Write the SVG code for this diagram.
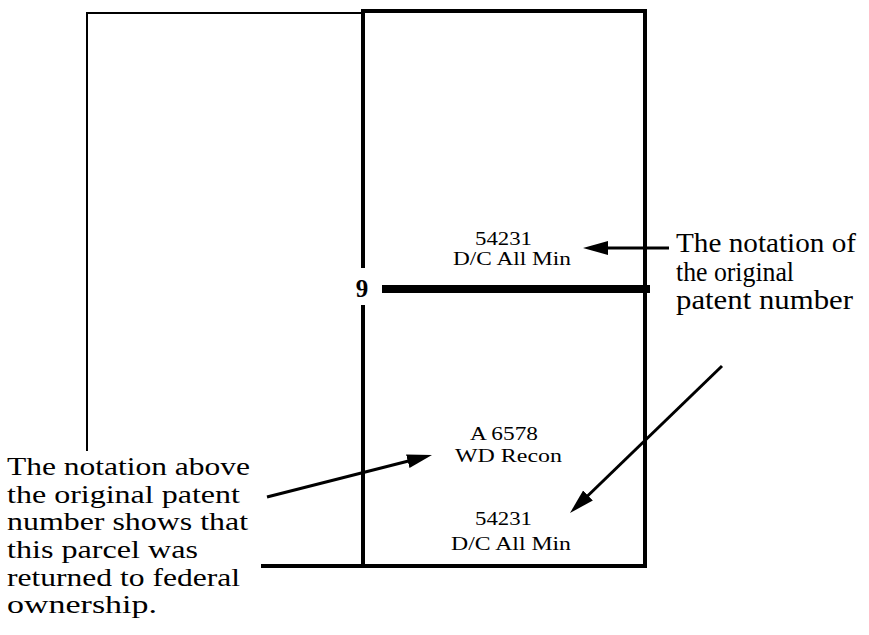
<svg xmlns="http://www.w3.org/2000/svg" width="869" height="635" viewBox="0 0 869 635">
<style>
.t{font-family:"Liberation Serif","Times New Roman",serif;fill:#000}
.big{font-size:27px}
.lf{font-size:26px}
.sm{font-size:18px}
.ln{stroke:#000;fill:none;stroke-linecap:square}
.arr{stroke:#000;stroke-width:3;fill:none}
</style>
<defs>
<marker id="ah" markerUnits="userSpaceOnUse" markerWidth="26" markerHeight="16" refX="15" refY="7" orient="auto">
<path d="M0,0 L25,7 L0,14 Z" fill="#000"/>
</marker>
</defs>
<rect width="869" height="635" fill="#fff"/>
<g id="left-parcel">
<path class="ln" stroke-width="2" d="M87,450 L87,13 L363,13"/>
</g>
<g id="right-parcel">
<path class="ln" stroke-width="4" d="M363,266 L363,11 L645,11 L645,566 L263,566"/>
<path class="ln" stroke-width="4" d="M363,307 L363,566"/>
<text class="t" x="362" y="297" font-size="25" font-weight="bold" text-anchor="middle">9</text>
<line x1="382" y1="289" x2="650" y2="289" stroke="#000" stroke-width="8"/>
</g>
<g id="notation-top">
<text class="t sm" x="475" y="245" textLength="57" lengthAdjust="spacingAndGlyphs">54231</text>
<text class="t sm" x="453" y="265" textLength="118" lengthAdjust="spacingAndGlyphs">D/C  All Min</text>
</g>
<g id="notation-recon">
<text class="t sm" x="470" y="440" textLength="68" lengthAdjust="spacingAndGlyphs">A 6578</text>
<text class="t sm" x="455" y="462" textLength="107" lengthAdjust="spacingAndGlyphs">WD  Recon</text>
</g>
<g id="notation-bottom">
<text class="t sm" x="475" y="525" textLength="57" lengthAdjust="spacingAndGlyphs">54231</text>
<text class="t sm" x="451" y="550" textLength="120" lengthAdjust="spacingAndGlyphs">D/C  All Min</text>
</g>
<g id="label-right">
<text class="t big" x="676" y="252" textLength="180" lengthAdjust="spacingAndGlyphs">The notation of</text>
<text class="t big" x="676" y="281" textLength="118" lengthAdjust="spacingAndGlyphs">the original</text>
<text class="t big" x="676" y="309" textLength="177" lengthAdjust="spacingAndGlyphs">patent number</text>
</g>
<g id="label-left">
<text class="t lf" x="7" y="475" textLength="243" lengthAdjust="spacingAndGlyphs">The notation above</text>
<text class="t lf" x="7" y="503" textLength="233" lengthAdjust="spacingAndGlyphs">the original patent</text>
<text class="t lf" x="7" y="530" textLength="241" lengthAdjust="spacingAndGlyphs">number shows that</text>
<text class="t lf" x="7" y="558" textLength="191" lengthAdjust="spacingAndGlyphs">this parcel was</text>
<text class="t lf" x="7" y="586" textLength="233" lengthAdjust="spacingAndGlyphs">returned to federal</text>
<text class="t lf" x="7" y="613" textLength="150" lengthAdjust="spacingAndGlyphs">ownership.</text>
</g>
<g id="connectors">
<line class="arr" stroke-width="2.5" x1="669" y1="248" x2="593" y2="248" marker-end="url(#ah)"/>
<line class="arr" x1="267" y1="497" x2="422.3" y2="457.5" marker-end="url(#ah)"/>
<line class="arr" x1="722" y1="366" x2="577.2" y2="506" marker-end="url(#ah)"/>
</g>
</svg>
